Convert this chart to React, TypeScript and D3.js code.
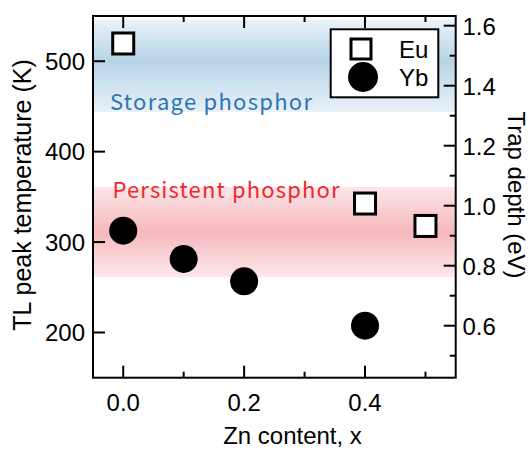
import * as d3 from "d3";

// Zn content (x) and TL peak temperature (K)
const euX = [0.0, 0.4, 0.5];
const euT = [519.6, 342.6, 317.8];
const ybX = [0.0, 0.1, 0.2, 0.4];
const ybT = [312.6, 281.3, 256.6, 207.5];

const xTicks = [0.0, 0.2, 0.4];
const xMinor = [0.1, 0.3, 0.5];
const tTicks = [200, 300, 400, 500];
const eTicks = [0.6, 0.8, 1.0, 1.2, 1.4, 1.6];
const eMinor = [0.5, 0.7, 0.9, 1.1, 1.3, 1.5];

// shaded temperature ranges (K)
const storageBand = [444, 546];
const persistentBand = [261, 361];

const W = 531;
const H = 449;
const left = 93;
const right = 455.7;
const top = 16;
const bottom = 377.7;

const font = "'Liberation Sans', Arial, sans-serif";

export default function App() {
  const x = d3.scaleLinear().domain([-0.05, 0.55]).range([left, right]);
  const y = d3.scaleLinear().domain([150, 550]).range([bottom, top]);
  const yE = d3.scaleLinear().domain([0.4267, 1.6323]).range([bottom, top]);

  const sq = 21;
  const r = 14;

  return (
    <div>
      <style>{`body{margin:0}`}</style>
      <svg width={W} height={H} style={{ display: "block" }}>
        <defs>
          <linearGradient id="blueBand" x1="0" y1="0" x2="0" y2="1">
            <stop offset="0" stopColor="#eaf3f9" />
            <stop offset="0.45" stopColor="#b7d4e7" />
            <stop offset="1" stopColor="#e8f1f8" />
          </linearGradient>
          <linearGradient id="redBand" x1="0" y1="0" x2="0" y2="1">
            <stop offset="0" stopColor="#fce6e8" />
            <stop offset="0.5" stopColor="#f6b8bc" />
            <stop offset="1" stopColor="#fce9eb" />
          </linearGradient>
        </defs>

        <rect
          x={left}
          y={y(storageBand[1])}
          width={right - left}
          height={y(storageBand[0]) - y(storageBand[1])}
          fill="url(#blueBand)"
        />
        <rect
          x={left}
          y={y(persistentBand[1])}
          width={right - left}
          height={y(persistentBand[0]) - y(persistentBand[1])}
          fill="url(#redBand)"
        />

        <text
          x={110}
          y={110}
          fill="#2e74b5"
          fontFamily="'Noto Sans CJK JP', 'Noto Sans', sans-serif"
          fontSize={22}
          textLength={202}
          lengthAdjust="spacing"
        >
          Storage phosphor
        </text>
        <text
          x={112.5}
          y={198}
          fill="#ec2a2e"
          fontFamily="'Noto Sans CJK JP', 'Noto Sans', sans-serif"
          fontSize={22}
          textLength={227}
          lengthAdjust="spacing"
        >
          Persistent phosphor
        </text>

        {/* frame */}
        <rect
          x={left}
          y={top}
          width={right - left}
          height={bottom - top}
          fill="none"
          stroke="#000"
          strokeWidth={2}
        />

        {/* ticks, all pointing inward */}
        <g stroke="#000" strokeWidth={2}>
          {xTicks.map((d) => (
            <g key={"xt" + d}>
              <line x1={x(d)} x2={x(d)} y1={bottom} y2={bottom - 12} />
              <line x1={x(d)} x2={x(d)} y1={top} y2={top + 12} />
            </g>
          ))}
          {xMinor.map((d) => (
            <g key={"xm" + d}>
              <line x1={x(d)} x2={x(d)} y1={bottom} y2={bottom - 6} />
              <line x1={x(d)} x2={x(d)} y1={top} y2={top + 6} />
            </g>
          ))}
          {tTicks.map((d) => (
            <line key={"yt" + d} x1={left} x2={left + 12} y1={y(d)} y2={y(d)} />
          ))}
          {eTicks.map((d) => (
            <line key={"et" + d} x1={right} x2={right - 12} y1={yE(d)} y2={yE(d)} />
          ))}
          {eMinor.map((d) => (
            <line key={"em" + d} x1={right} x2={right - 6} y1={yE(d)} y2={yE(d)} />
          ))}
        </g>

        <g fontFamily={font} fontSize={24} fill="#000">
          {xTicks.map((d) => (
            <text key={"xl" + d} x={x(d)} y={411} textAnchor="middle">
              {d.toFixed(1)}
            </text>
          ))}
          {tTicks.map((d) => (
            <text key={"yl" + d} x={85} y={y(d) + 8.5} textAnchor="end">
              {d}
            </text>
          ))}
          {eTicks.map((d) => (
            <text key={"el" + d} x={462.5} y={yE(d) + 9} textAnchor="start">
              {d.toFixed(1)}
            </text>
          ))}
          <text x={292.5} y={444} textAnchor="middle">
            Zn content, x
          </text>
          <text transform="translate(31,195) rotate(-90)" textAnchor="middle" fontSize={25}>
            TL peak temperature (K)
          </text>
          <text transform="translate(508,195) rotate(90)" textAnchor="middle" fontSize={24}>
            Trap depth (eV)
          </text>
        </g>

        {/* data */}
        {ybX.map((d, i) => (
          <circle key={"yb" + i} cx={x(d)} cy={y(ybT[i])} r={r} fill="#000" />
        ))}
        {euX.map((d, i) => (
          <rect
            key={"eu" + i}
            x={x(d) - sq / 2}
            y={y(euT[i]) - sq / 2}
            width={sq}
            height={sq}
            fill="#fff"
            stroke="#000"
            strokeWidth={3}
          />
        ))}

        {/* legend */}
        <rect x={330.7} y={29.3} width={107.6} height={68} fill="#fff" stroke="#000" strokeWidth={2} />
        <rect x={361 - 10} y={49 - 10} width={20} height={20} fill="#fff" stroke="#000" strokeWidth={3} />
        <circle cx={363} cy={77} r={15} fill="#000" />
        <g fontFamily={font} fontSize={24}>
          <text x={399} y={57.5}>Eu</text>
          <text x={399} y={86}>Yb</text>
        </g>
      </svg>
    </div>
  );
}
